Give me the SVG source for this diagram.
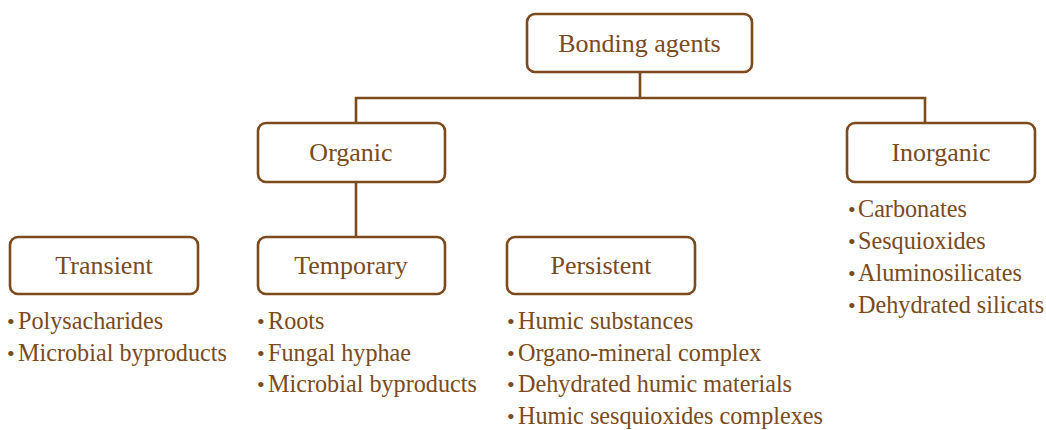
<svg xmlns="http://www.w3.org/2000/svg" width="1046" height="430" viewBox="0 0 1046 430">
  <style>
    .box { fill: #ffffff; stroke: #7b4a1d; stroke-width: 2.6; }
    .wire { fill: none; stroke: #7b4a1d; stroke-width: 2.6; }
    .label { font-family: "Liberation Serif", "Times New Roman", serif; font-size: 26px; fill: #7a4a20; text-anchor: middle; }
    .item { font-family: "Liberation Serif", "Times New Roman", serif; font-size: 24.2px; fill: #7a4a20; }
    .dot { font-size: 22px; }
  </style>
  <rect width="1046" height="430" fill="#ffffff"/>

  <!-- tree connectors -->
  <g id="connectors">
    <path class="wire" d="M640 72 V98"/>
    <path class="wire" d="M356 123 V98 H925 V123"/>
    <path class="wire" d="M356 182 V237"/>
  </g>

  <g id="bonding-agents">
    <rect class="box" x="527" y="14" width="225" height="58" rx="8"/>
    <text class="label" x="639.5" y="52">Bonding agents</text>
  </g>

  <g id="organic">
    <rect class="box" x="258" y="123" width="187" height="59" rx="8"/>
    <text class="label" x="351" y="161">Organic</text>
  </g>

  <g id="inorganic">
    <rect class="box" x="847" y="123" width="188" height="59" rx="8"/>
    <text class="label" x="941" y="161">Inorganic</text>
    <text class="item" y="217"><tspan class="dot" x="848">•</tspan><tspan x="858">Carbonates</tspan></text>
    <text class="item" y="249"><tspan class="dot" x="848">•</tspan><tspan x="858">Sesquioxides</tspan></text>
    <text class="item" y="281"><tspan class="dot" x="848">•</tspan><tspan x="858">Aluminosilicates</tspan></text>
    <text class="item" y="313"><tspan class="dot" x="848">•</tspan><tspan x="858">Dehydrated silicats</tspan></text>
  </g>

  <g id="transient">
    <rect class="box" x="10" y="237" width="188" height="57" rx="8"/>
    <text class="label" x="104" y="274">Transient</text>
    <text class="item" y="329"><tspan class="dot" x="7">•</tspan><tspan x="18">Polysacharides</tspan></text>
    <text class="item" y="361"><tspan class="dot" x="7">•</tspan><tspan x="18">Microbial byproducts</tspan></text>
  </g>

  <g id="temporary">
    <rect class="box" x="258" y="237" width="187" height="57" rx="8"/>
    <text class="label" x="351" y="274">Temporary</text>
    <text class="item" y="329"><tspan class="dot" x="257">•</tspan><tspan x="268">Roots</tspan></text>
    <text class="item" y="361"><tspan class="dot" x="257">•</tspan><tspan x="268">Fungal hyphae</tspan></text>
    <text class="item" y="392"><tspan class="dot" x="257">•</tspan><tspan x="268">Microbial byproducts</tspan></text>
  </g>

  <g id="persistent">
    <rect class="box" x="507" y="237" width="188" height="57" rx="8"/>
    <text class="label" x="601" y="274">Persistent</text>
    <text class="item" y="329"><tspan class="dot" x="507">•</tspan><tspan x="518">Humic substances</tspan></text>
    <text class="item" y="361"><tspan class="dot" x="507">•</tspan><tspan x="518">Organo-mineral complex</tspan></text>
    <text class="item" y="392"><tspan class="dot" x="507">•</tspan><tspan x="518">Dehydrated humic materials</tspan></text>
    <text class="item" y="424"><tspan class="dot" x="507">•</tspan><tspan x="518">Humic sesquioxides complexes</tspan></text>
  </g>
</svg>
